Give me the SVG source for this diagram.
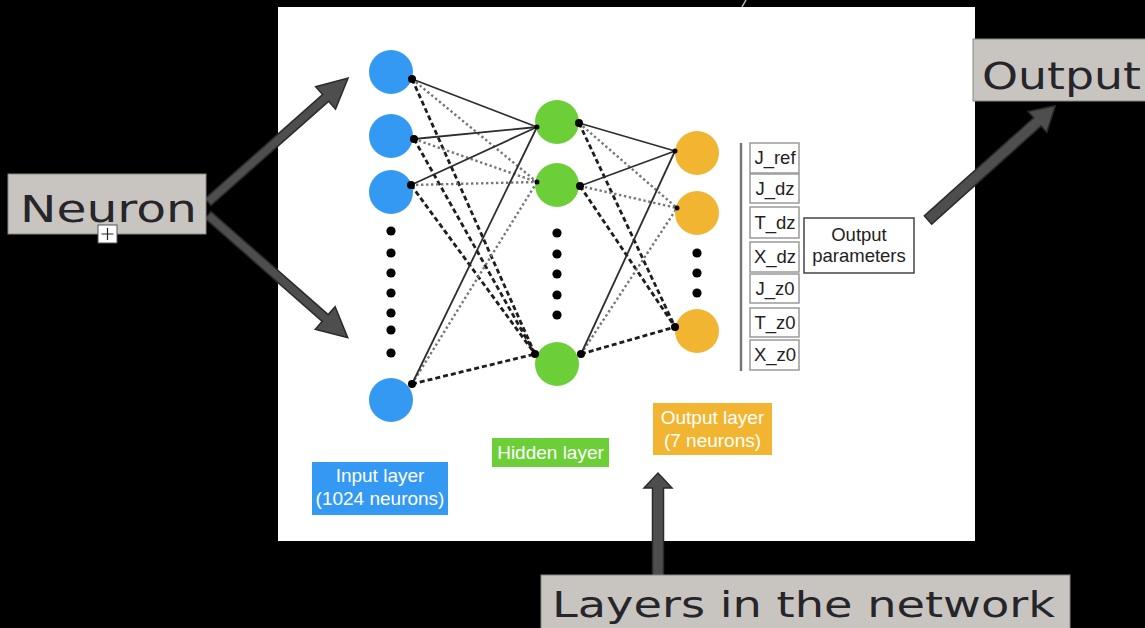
<svg xmlns="http://www.w3.org/2000/svg" width="1145" height="628" viewBox="0 0 1145 628">
  <style>
    .sticky { fill: #c8c5c1; stroke: #8a8884; stroke-width: 1; }
    .hand { font-family: "DejaVu Sans", "Liberation Sans", sans-serif; fill: #26262a; }
    .bigarrow { fill: #4e4e4e; stroke: #2b2b2b; stroke-width: 1.5; stroke-linejoin: miter; }
    .in { fill: #3399f3; }
    .hid { fill: #6dcf38; }
    .out { fill: #f2b531; }
    .dot { fill: #000; }
    .solid { stroke: #2e2e2e; stroke-width: 1.8; fill: none; }
    .dotted { stroke: #777; stroke-width: 2.4; stroke-dasharray: 2.4 2.6; fill: none; }
    .dashed { stroke: #1e1e1e; stroke-width: 2.8; stroke-dasharray: 5 3; fill: none; }
    .tag { font-family: "Liberation Sans", Arial, sans-serif; font-size: 19px; fill: #fff; text-anchor: middle; }
    .pbox { fill: #fff; stroke: #9a9a9a; stroke-width: 1.5; }
    .ptxt { font-family: "Liberation Sans", Arial, sans-serif; font-size: 18.5px; fill: #222; text-anchor: middle; }
  </style>

  <!-- backdrop and slide panel -->
  <rect x="0" y="0" width="1145" height="628" fill="#000"/>
  <rect x="278" y="7" width="697" height="534" fill="#fff"/>
  <line x1="746" y1="0" x2="742" y2="7" stroke="#bdbdbd" stroke-width="1.5"/>

  <!-- weights between layers -->
  <g id="connectors">
    <!-- input -> hidden -->
    <line class="dashed" x1="412" y1="79" x2="535" y2="354"/>
    <line class="dashed" x1="414" y1="139" x2="535" y2="354"/>
    <line class="dashed" x1="411" y1="185" x2="535" y2="354"/>
    <line class="dashed" x1="412" y1="384" x2="535" y2="354"/>
    <line class="dotted" x1="412" y1="79" x2="537" y2="182"/>
    <line class="dotted" x1="414" y1="139" x2="537" y2="182"/>
    <line class="dotted" x1="411" y1="185" x2="537" y2="182"/>
    <line class="dotted" x1="412" y1="384" x2="537" y2="182"/>
    <line class="solid" x1="412" y1="79" x2="537" y2="127"/>
    <line class="solid" x1="414" y1="139" x2="537" y2="127"/>
    <line class="solid" x1="411" y1="185" x2="537" y2="127"/>
    <line class="solid" x1="412" y1="384" x2="537" y2="127"/>
    <!-- hidden -> output -->
    <line class="dashed" x1="579" y1="123" x2="675" y2="327"/>
    <line class="dashed" x1="580" y1="186" x2="675" y2="327"/>
    <line class="dashed" x1="581" y1="354" x2="675" y2="327"/>
    <line class="dotted" x1="579" y1="123" x2="677" y2="208"/>
    <line class="dotted" x1="580" y1="186" x2="677" y2="208"/>
    <line class="dotted" x1="581" y1="354" x2="677" y2="208"/>
    <line class="solid" x1="579" y1="123" x2="675" y2="151"/>
    <line class="solid" x1="580" y1="186" x2="675" y2="151"/>
    <line class="solid" x1="581" y1="354" x2="675" y2="151"/>
  </g>

  <!-- input layer -->
  <g id="input-layer">
    <circle class="in" cx="391" cy="72" r="22"/>
    <circle class="in" cx="391" cy="136" r="22"/>
    <circle class="in" cx="391" cy="192" r="22"/>
    <circle class="in" cx="391" cy="400" r="22"/>
    <circle class="dot" cx="391" cy="231" r="4.6"/>
    <circle class="dot" cx="391" cy="253" r="4.6"/>
    <circle class="dot" cx="391" cy="273" r="4.6"/>
    <circle class="dot" cx="391" cy="293" r="4.6"/>
    <circle class="dot" cx="391" cy="313" r="4.6"/>
    <circle class="dot" cx="391" cy="330" r="4.6"/>
    <circle class="dot" cx="391" cy="353" r="4.6"/>
  </g>

  <!-- hidden layer -->
  <g id="hidden-layer">
    <circle class="hid" cx="557" cy="122" r="22"/>
    <circle class="hid" cx="557" cy="185" r="22"/>
    <circle class="hid" cx="557" cy="364" r="22"/>
    <circle class="dot" cx="557" cy="233" r="4.6"/>
    <circle class="dot" cx="557" cy="254" r="4.6"/>
    <circle class="dot" cx="557" cy="274" r="4.6"/>
    <circle class="dot" cx="557" cy="295" r="4.6"/>
    <circle class="dot" cx="557" cy="315" r="4.6"/>
  </g>

  <!-- output layer -->
  <g id="output-layer">
    <circle class="out" cx="697" cy="153" r="22"/>
    <circle class="out" cx="697" cy="213" r="22"/>
    <circle class="out" cx="697" cy="331" r="22"/>
    <circle class="dot" cx="697" cy="253" r="4.6"/>
    <circle class="dot" cx="697" cy="273" r="4.6"/>
    <circle class="dot" cx="697" cy="293" r="4.6"/>
  </g>

  <!-- connection end points -->
  <g id="joints">
    <circle class="dot" cx="412" cy="79" r="4"/>
    <circle class="dot" cx="414" cy="139" r="4"/>
    <circle class="dot" cx="411" cy="185" r="4"/>
    <circle class="dot" cx="412" cy="384" r="4"/>
    <circle class="dot" cx="537" cy="127" r="2.5"/>
    <circle class="dot" cx="537" cy="182" r="2.5"/>
    <circle class="dot" cx="535" cy="354" r="4"/>
    <circle class="dot" cx="579" cy="123" r="4"/>
    <circle class="dot" cx="580" cy="186" r="4"/>
    <circle class="dot" cx="581" cy="354" r="4"/>
    <circle class="dot" cx="675" cy="151" r="2.5"/>
    <circle class="dot" cx="677" cy="208" r="2.5"/>
    <circle class="dot" cx="675" cy="327" r="4"/>
  </g>

  <!-- layer captions -->
  <g id="input-caption">
    <rect x="312" y="462" width="136" height="53" fill="#3399f3"/>
    <text class="tag" x="380" y="482">Input layer</text>
    <text class="tag" x="380" y="505">(1024 neurons)</text>
  </g>
  <g id="hidden-caption">
    <rect x="492" y="438" width="117" height="29" fill="#6dcf38"/>
    <text class="tag" x="550.5" y="459">Hidden layer</text>
  </g>
  <g id="output-caption">
    <rect x="653" y="403" width="119" height="52" fill="#f2b531"/>
    <text class="tag" x="712.5" y="424">Output layer</text>
    <text class="tag" x="712.5" y="447">(7 neurons)</text>
  </g>

  <!-- output parameter list -->
  <g id="parameter-list">
    <line x1="741" y1="143" x2="741" y2="371" stroke="#777" stroke-width="2.5"/>
    <rect class="pbox" x="750" y="143" width="49" height="30"/>
    <text class="ptxt" x="775" y="164">J_ref</text>
    <rect class="pbox" x="750" y="174" width="49" height="29"/>
    <text class="ptxt" x="775" y="195">J_dz</text>
    <rect class="pbox" x="750" y="207" width="49" height="31"/>
    <text class="ptxt" x="775" y="229">T_dz</text>
    <rect class="pbox" x="750" y="242" width="49" height="30"/>
    <text class="ptxt" x="775" y="263">X_dz</text>
    <rect class="pbox" x="750" y="274" width="49" height="29"/>
    <text class="ptxt" x="775" y="295">J_z0</text>
    <rect class="pbox" x="750" y="308" width="49" height="29"/>
    <text class="ptxt" x="775" y="329">T_z0</text>
    <rect class="pbox" x="750" y="340" width="49" height="30"/>
    <text class="ptxt" x="775" y="361">X_z0</text>
  </g>
  <g id="output-parameters">
    <rect x="804" y="218" width="110" height="55" fill="#fff" stroke="#444" stroke-width="1.5"/>
    <text class="ptxt" x="859" y="241">Output</text>
    <text class="ptxt" x="859" y="262">parameters</text>
  </g>

  <!-- annotation arrows -->
  <g id="annotation-arrows">
    <path class="bigarrow" transform="translate(208,202) rotate(-41.5)" d="M0,-4.5 H157 V-15 L187,0 L157,15 V4.5 H0 Z"/>
    <path class="bigarrow" transform="translate(208,215) rotate(41.3)" d="M0,-4.5 H156 V-15 L186,0 L156,15 V4.5 H0 Z"/>
    <path class="bigarrow" transform="translate(928,220) rotate(-41.9)" d="M0,-5.5 H147 V-14 L171,0 L147,14 V5.5 H0 Z"/>
    <path class="bigarrow" transform="translate(658,576) rotate(-90)" d="M0,-5.5 H88 V-14 L103,0 L88,14 V5.5 H0 Z"/>
  </g>

  <!-- annotation notes -->
  <g id="note-neuron">
    <rect class="sticky" x="8" y="174" width="198" height="60"/>
    <text class="hand" x="20" y="222" font-size="37" textLength="177" lengthAdjust="spacingAndGlyphs">Neuron</text>
    <rect x="98" y="225" width="19" height="18" fill="#fff" stroke="#555" stroke-width="1"/>
    <path d="M107.5,228 V240 M101.5,234 H113.5" stroke="#222" stroke-width="1.2" fill="none"/>
  </g>
  <g id="note-output">
    <rect class="sticky" x="973" y="39" width="180" height="62"/>
    <text class="hand" x="982" y="89" font-size="38" textLength="159" lengthAdjust="spacingAndGlyphs">Output</text>
  </g>
  <g id="note-layers">
    <rect class="sticky" x="541" y="575" width="529" height="62"/>
    <text class="hand" x="552" y="617" font-size="35" textLength="503" lengthAdjust="spacingAndGlyphs">Layers in the network</text>
  </g>
</svg>
